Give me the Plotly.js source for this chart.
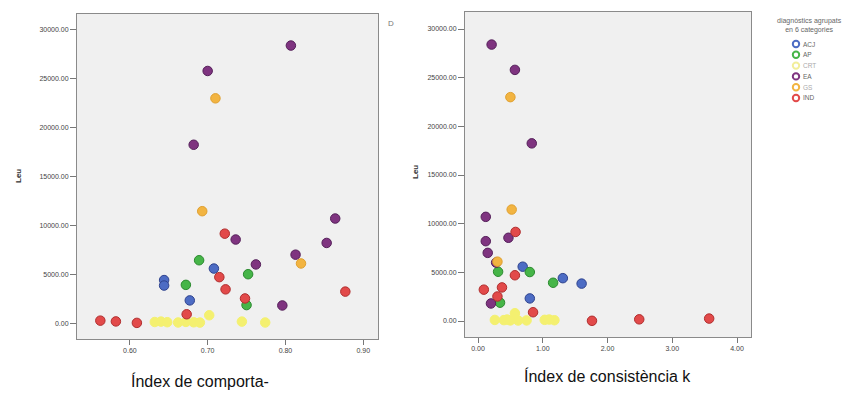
<!DOCTYPE html>
<html>
<head>
<meta charset="utf-8">
<script src="https://cdn.plot.ly/plotly-3.0.1.min.js"></script>
<style>
  html, body { margin: 0; padding: 0; background: #ffffff; }
  #chart { width: 858px; height: 394px; }
</style>
</head>
<body>
<div id="chart"></div>
<script>
// Diagnostic groups (6 categories)
const categories = ['ACJ', 'AP', 'CRT', 'EA', 'GS', 'IND'];

// ACJ
const acjLeu  = [5580, 4400, 3840, 2320];
const acjComp = [0.708, 0.644, 0.644, 0.677];
const acjK    = [0.69, 1.31, 1.60, 0.80];

// AP
const apLeu   = [6430, 5000, 3910, 1840];
const apComp  = [0.689, 0.752, 0.672, 0.750];
const apLeuK  = [5060, 5030, 3930, 1880];
const apK     = [0.31, 0.80, 1.16, 0.34];

// CRT
const crtLeu  = [110, 150, 90, 60, 120, 80, 50, 800, 150, 60];
const crtComp = [0.632, 0.640, 0.648, 0.662, 0.672, 0.682, 0.690, 0.702, 0.744, 0.774];
const crtK    = [0.26, 0.45, 0.40, 0.75, 1.03, 1.18, 0.62, 0.57, 1.10, 0.50];

// EA
const eaLeu   = [28400, 25800, 18250, 10700, 8550, 8200, 7000, 6000, 1800];
const eaComp  = [0.807, 0.700, 0.682, 0.864, 0.736, 0.853, 0.813, 0.762, 0.796];
const eaK     = [0.21, 0.57, 0.83, 0.12, 0.47, 0.12, 0.15, 0.28, 0.20];

// GS
const gsLeu   = [23000, 11450, 6100];
const gsComp  = [0.710, 0.693, 0.820];
const gsK     = [0.50, 0.52, 0.30];

// IND
const indLeu  = [9150, 4700, 3450, 3220, 2520, 900, 250, 170, 20];
const indComp = [0.722, 0.715, 0.723, 0.877, 0.748, 0.673, 0.562, 0.582, 0.609];
const indK    = [0.58, 0.57, 0.37, 0.09, 0.30, 0.85, 3.57, 2.49, 1.76];

// Axis ticks
const leuTicks  = [0, 5000, 10000, 15000, 20000, 25000, 30000];
const compTicks = [0.60, 0.70, 0.80, 0.90];
const kTicks    = [0, 1, 2, 3, 4];

const yTitle = 'Leu';
const xTitleLeft = 'Índex de comporta-';
const xTitleRight = 'Índex de consistència k';
const legendTitle = 'diagnòstics agrupats<br>en 6 categories';
const cutTitle = 'D';

// Styling per category
const fillColors = ['#4d6cc4', '#46b548', '#f4f070', '#7f3480', '#f2b441', '#e24a4a'];
const edgeColors = ['#2f438e', '#2b8a2f', '#f4f070', '#55205a', '#e0a030', '#b02e2e'];

const compData = [
  [acjComp, acjLeu], [apComp, apLeu], [crtComp, crtLeu],
  [eaComp, eaLeu], [gsComp, gsLeu], [indComp, indLeu]
];
const kData = [
  [acjK, acjLeu], [apK, apLeuK], [crtK, crtLeu],
  [eaK, eaLeu], [gsK, gsLeu], [indK, indLeu]
];

const W = 858, H = 394;
const px = v => v / W;
const py = v => 1 - v / H;

const traces = [];
categories.forEach((name, i) => {
  const marker = {
    size: 9.5,
    color: fillColors[i],
    line: { color: edgeColors[i], width: 1 }
  };
  traces.push({
    type: 'scatter', mode: 'markers', name: name,
    x: compData[i][0], y: compData[i][1],
    xaxis: 'x', yaxis: 'y', marker: marker, showlegend: false
  });
  traces.push({
    type: 'scatter', mode: 'markers', name: name,
    x: kData[i][0], y: kData[i][1],
    xaxis: 'x2', yaxis: 'y2', marker: marker, showlegend: false
  });
});

const tickFont = { family: 'Liberation Sans, Arial, sans-serif', size: 7, color: '#444444' };
const fmt = v => v.toFixed(2);

function xAxis(domain, range, ticks) {
  return {
    domain: domain, range: range,
    tickmode: 'array', tickvals: ticks, ticktext: ticks.map(fmt),
    ticks: 'outside', ticklen: 5, tickcolor: '#777', tickwidth: 1,
    showgrid: false, zeroline: false,
    showline: true, mirror: true, linecolor: '#8a8a8a', linewidth: 1,
    tickfont: tickFont
  };
}
function yAxis(domain, range, anchor) {
  return {
    domain: domain, range: range, anchor: anchor,
    tickmode: 'array', tickvals: leuTicks, ticktext: leuTicks.map(fmt),
    ticks: 'outside', ticklen: 6, tickcolor: '#777', tickwidth: 1,
    showgrid: false, zeroline: false,
    showline: true, mirror: true, linecolor: '#8a8a8a', linewidth: 1,
    tickfont: tickFont
  };
}

const annotations = [
  { text: '<b>' + yTitle + '</b>', x: px(18), y: py(176), textangle: -90,
    font: { family: 'Liberation Sans, Arial, sans-serif', size: 8, color: '#333333' } },
  { text: '<b>' + yTitle + '</b>', x: px(415), y: py(172), textangle: -90,
    font: { family: 'Liberation Sans, Arial, sans-serif', size: 8, color: '#333333' } },
  { text: cutTitle, x: px(391), y: py(24),
    font: { family: 'Liberation Sans, Arial, sans-serif', size: 8, color: '#777777' } },
  { text: xTitleLeft, x: px(200), y: py(381),
    font: { family: 'Liberation Sans, Arial, sans-serif', size: 16, color: '#111111' } },
  { text: xTitleRight, x: px(607), y: py(376),
    font: { family: 'Liberation Sans, Arial, sans-serif', size: 16, color: '#111111' } },
  { text: legendTitle, x: px(809), y: py(26),
    font: { family: 'Liberation Sans, Arial, sans-serif', size: 7, color: '#666666' } }
].map(a => Object.assign({ xref: 'paper', yref: 'paper', showarrow: false,
  xanchor: 'center', yanchor: 'middle' }, a));

// Hand-built legend rows: ring marker + label
const shapes = [];
categories.forEach((name, i) => {
  const cy = 44 + i * 10.8;
  const cx = 796, r = 3.2;
  shapes.push({
    type: 'circle', xref: 'paper', yref: 'paper',
    x0: px(cx - r), x1: px(cx + r), y0: py(cy + r), y1: py(cy - r),
    line: { color: i === 2 ? '#f2ee9a' : fillColors[i], width: 2 },
    fillcolor: 'rgba(0,0,0,0)'
  });
  annotations.push({
    text: name, xref: 'paper', yref: 'paper', showarrow: false,
    x: px(801), y: py(cy), xanchor: 'left', yanchor: 'middle',
    font: { family: 'Liberation Sans, Arial, sans-serif', size: 6.5,
      color: (i === 2 || i === 4) ? '#aaaaaa' : '#666666' }
  });
});

const layout = {
  width: W, height: H,
  margin: { l: 0, r: 0, t: 0, b: 0 },
  paper_bgcolor: '#ffffff',
  plot_bgcolor: '#f0f0f0',
  showlegend: false,
  xaxis: Object.assign(xAxis([px(77), px(378)], [0.532, 0.919], compTicks), { anchor: 'y' }),
  yaxis: yAxis([py(339), py(14)], [-1630, 31630], 'x'),
  xaxis2: Object.assign(xAxis([px(465), px(751)], [-0.201, 4.216], kTicks), { anchor: 'y2' }),
  yaxis2: yAxis([py(337), py(12)], [-1644, 31747], 'x2'),
  annotations: annotations,
  shapes: shapes
};

Plotly.newPlot('chart', traces, layout, { staticPlot: true, displayModeBar: false });
</script>
</body>
</html>
